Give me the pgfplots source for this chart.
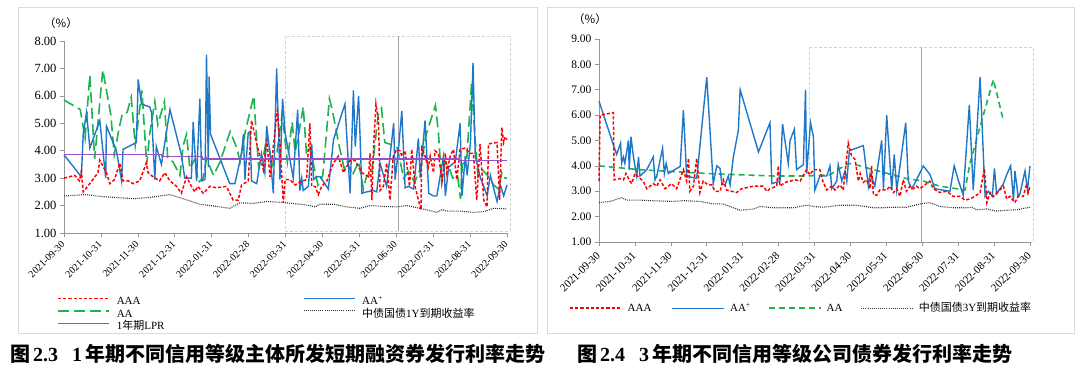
\documentclass[border=0pt]{standalone}
\usepackage{fontspec}
\setmainfont{Liberation Serif}
\newfontfamily\cjk{Noto Sans CJK SC}
\usepackage{pgfplots}
\pgfplotsset{compat=1.18}
\definecolor{cRed}{RGB}{255,0,0}
\definecolor{cBlue}{RGB}{31,119,200}
\definecolor{cGreen}{RGB}{30,178,80}
\definecolor{cPurple}{RGB}{150,80,200}
\definecolor{cDot}{RGB}{50,50,50}
\definecolor{axgray}{RGB}{150,150,150}
\definecolor{framegray}{RGB}{217,217,217}
\definecolor{txt}{RGB}{64,64,64}
\tikzset{
 Laaa/.style={draw=cRed, line width=1.5pt, dash pattern=on 3.2pt off 2pt},
 Laap/.style={draw=cBlue, line width=1.4pt},
 LaaR/.style={draw=cGreen, line width=1.6pt, dash pattern=on 6pt off 4pt},
 Lyld/.style={draw=cDot, line width=1.1pt, dash pattern=on 1pt off 1.1pt},
}
\newcommand{\lgl}[1]{\tikz[baseline=-3.5pt]\draw[#1] (0pt,0pt) -- (52pt,0pt);\hspace{5pt}}
\pgfplotsset{
 aaa/.style={draw=cRed, line width=1.5pt, dash pattern=on 3.2pt off 2pt},
 aap/.style={draw=cBlue, line width=1.4pt},
 aaL/.style={draw=cGreen, line width=1.6pt, dash pattern=on 11pt off 5pt},
 aaR/.style={draw=cGreen, line width=1.6pt, dash pattern=on 6pt off 4pt},
 yld/.style={draw=cDot, line width=1.1pt, dash pattern=on 1pt off 1.1pt},
 lpr/.style={draw=cPurple, line width=1.3pt},
 myax/.style={scale only axis, anchor=south west, xmin=0, xmax=12,
  axis x line*=bottom, axis y line*=left,
  axis line style={draw=axgray, line width=0.8pt, -},
  every tick/.style={draw=axgray, line width=0.6pt},
  tick align=outside, major tick length=4pt,
  xtick={0,...,12},
  xticklabels={2021-09-30,2021-10-31,2021-11-30,2021-12-31,2022-01-31,2022-02-28,2022-03-31,2022-04-30,2022-05-31,2022-06-30,2022-07-31,2022-08-31,2022-09-30},
  x tick label style={rotate=45, anchor=east, inner sep=1pt},
  clip=false,
  legend cell align=left,
 },
}
\begin{document}
\begin{tikzpicture}
\path[use as bounding box] (0pt,0pt) rectangle (1080pt,376pt);
\draw[framegray, line width=0.9pt] (18pt,369pt) rectangle (537pt,43pt);
\draw[framegray, line width=0.9pt] (547pt,369pt) rectangle (1074pt,43pt);
% highlight boxes
\draw[gray!35, line width=0.7pt, dash pattern=on 3pt off 2pt] (285pt,340pt) rectangle (510pt,145pt);
\draw[gray!70, line width=0.6pt] (398pt,340pt) -- (398pt,145pt);
\draw[gray!35, line width=0.7pt, dash pattern=on 3pt off 2pt] (809pt,329pt) rectangle (1033pt,134pt);
\draw[gray!70, line width=0.6pt] (921pt,329pt) -- (921pt,134pt);

\begin{axis}[myax, at={(64pt,143pt)}, width=443pt, height=192pt, ymin=1, ymax=8,
 ytick={1,...,8}, yticklabels={1.00,2.00,3.00,4.00,5.00,6.00,7.00,8.00},
 y tick label style={font=\fontsize{12.5}{14}\selectfont},
 x tick label style={font=\fontsize{10}{12}\selectfont},
 xticklabel shift=5pt,
 legend columns=2,
 legend style={at={(axis description cs:-0.0158,-0.3255)}, anchor=north west, draw=none, fill=none,
  inner sep=0pt, font=\fontsize{11}{12}\selectfont,
  nodes={inner sep=0pt, text height=9pt, text depth=3.5pt},
  /tikz/every odd column/.append style={column sep=7pt}},
 legend image code/.code={\draw[#1] (0pt,3.5pt) -- (51pt,3.5pt);},
]
\addlegendimage{aaa}\addlegendentry{\makebox[186pt][l]{AAA}}
\addlegendimage{aap}\addlegendentry{AA\textsuperscript{+}}
\addlegendimage{aaL}\addlegendentry{\makebox[186pt][l]{AA}}
\addlegendimage{yld}\addlegendentry{{\cjk 中债国债}1Y{\cjk 到期收益率}}
\addlegendimage{lpr}\addlegendentry{1{\cjk 年期}LPR}

\addplot[yld, forget plot] coordinates {
(0,2.35)(0.6,2.40)(1.0,2.33)(1.9,2.25)(2.33,2.30)(2.87,2.40)(3.23,2.25)(3.68,2.05)(4.13,1.97)(4.49,1.90)(4.76,2.10)(5.13,2.08)(5.49,2.15)(5.85,2.12)(6.39,2.05)(6.66,2.0)(6.80,1.95)(6.94,2.05)(7.30,2.05)(7.66,1.95)(8.02,1.90)(8.29,2.0)(8.65,1.97)(9.01,1.95)(9.28,2.0)(9.64,1.9)(9.91,1.82)(10.10,1.75)(10.24,1.85)(10.37,1.80)(10.73,1.80)(11.09,1.75)(11.37,1.78)(11.64,1.9)(12,1.88)};
\addplot[aaL, forget plot] coordinates {
(0,5.85)(0.44,5.5)(0.57,4.45)(0.70,6.75)(0.83,3.7)(1.05,6.95)(1.27,5.3)(1.36,3.85)(1.49,4.8)(1.58,5.35)(1.71,5.4)(1.82,5.95)(1.93,4.2)(2.11,6.2)(2.24,3.5)(2.32,4.6)(2.46,5.8)(2.54,4.95)(2.72,5.8)(2.81,3.7)(2.95,3.6)(3.14,3.1)(3.23,4.2)(3.32,4.6)(3.41,3.35)(3.55,3.7)(3.64,2.85)(3.77,3.0)(3.86,3.7)(4.05,3.1)(4.23,3.6)(4.50,4.7)(4.68,4.1)(4.77,3.6)(4.91,4.7)(5.14,6.0)(5.18,5.15)(5.27,3.45)(5.41,3.85)(5.50,4.55)(5.64,3.45)(5.77,3.95)(5.91,5.35)(6.05,3.6)(6.18,5.05)(6.26,3.95)(6.35,4.55)(6.48,5.6)(6.57,3.85)(6.66,4.1)(6.88,2.75)(7.01,3.1)(7.19,5.9)(7.28,5.4)(7.45,4.2)(7.59,3.35)(7.67,3.6)(7.81,3.1)(7.98,3.6)(8.11,2.6)(8.20,3.1)(8.33,3.1)(8.51,5.3)(8.60,5.55)(8.69,4.3)(8.81,4.25)(8.9,4.2)(9.03,4.1)(9.2,3.0)(9.33,3.25)(9.5,2.85)(9.67,3.4)(9.8,4.55)(10.06,5.65)(10.14,4.7)(10.23,2.85)(10.31,3.6)(10.44,3.35)(10.53,3.0)(10.66,3.1)(10.74,2.25)(10.79,3.5)(10.91,3.7)(11.04,6.45)(11.13,4.55)(11.21,3.1)(11.3,3.35)(11.47,3.1)(11.64,2.75)(11.77,2.6)(11.86,3.2)(11.95,3.0)(12,3.0)};
\addplot[aap, forget plot] coordinates {
(0.00,3.85)(0.47,3.05)(0.52,4.6)(0.61,5.4)(0.70,4.1)(0.97,5.1)(1.13,3.0)(1.15,4.9)(1.42,4.0)(1.56,2.9)(1.60,4.05)(1.96,4.3)(2.01,6.6)(2.10,5.7)(2.32,5.6)(2.37,5.4)(2.46,2.95)(2.50,4.15)(2.64,3.5)(2.87,5.5)(3.18,3.85)(3.27,3.0)(3.45,3.0)(3.50,5.05)(3.59,2.9)(3.68,5.9)(3.73,2.9)(3.82,2.95)(3.86,7.5)(3.91,3.4)(3.93,6.7)(3.97,4.6)(4.49,2.8)(4.63,2.8)(4.81,3.9)(4.86,4.6)(4.90,2.95)(4.99,4.65)(5.04,4.7)(5.08,2.9)(5.22,2.8)(5.35,3.9)(5.44,3.2)(5.49,4.9)(5.58,3.9)(5.67,2.45)(5.76,7.0)(5.85,2.95)(5.92,5.9)(5.99,4.65)(6.21,3.0)(6.33,5.5)(6.39,2.55)(6.44,3.0)(6.48,2.55)(6.62,2.7)(6.71,4.25)(6.76,2.95)(6.85,3.05)(6.94,3.05)(7.16,2.6)(7.30,4.4)(7.61,5.7)(7.75,2.45)(7.84,6.2)(7.89,4.15)(7.98,6.0)(8.02,4.5)(8.07,2.45)(8.20,2.5)(8.38,2.55)(8.47,2.5)(8.56,3.55)(8.74,2.7)(8.93,5.0)(8.97,2.95)(9.06,4.05)(9.15,5.45)(9.24,2.65)(9.33,2.7)(9.47,2.6)(9.60,4.45)(9.65,3.0)(9.78,5.1)(9.88,2.45)(10.01,2.35)(10.10,2.35)(10.28,3.8)(10.33,2.35)(10.42,3.4)(10.60,3.6)(10.73,5.0)(10.78,2.35)(10.87,3.8)(10.92,3.1)(11.01,4.3)(11.08,7.2)(11.14,3.8)(11.28,3.0)(11.37,2.7)(11.46,2.35)(11.55,3.1)(11.73,2.15)(11.82,2.75)(11.91,2.35)(12.00,2.75)};
\addplot[aaa, forget plot] coordinates {
(0,3.0)(0.29,3.1)(0.42,2.9)(0.47,3.25)(0.52,2.5)(0.70,2.8)(0.92,3.2)(0.97,3.65)(1.15,3.2)(1.24,2.8)(1.37,2.95)(1.51,3.55)(1.60,2.9)(1.74,2.9)(1.87,2.8)(2.05,2.9)(2.23,3.55)(2.28,3.2)(2.41,3.05)(2.59,2.9)(2.73,3.2)(2.87,2.9)(3.05,2.7)(3.18,2.45)(3.32,3.05)(3.41,2.8)(3.54,2.5)(3.63,2.7)(3.77,2.45)(3.95,2.7)(4.13,2.65)(4.40,2.7)(4.58,2.2)(4.72,2.2)(4.81,2.75)(4.99,2.9)(5.08,5.1)(5.22,4.25)(5.40,3.3)(5.49,4.4)(5.58,3.05)(5.78,5.5)(5.85,4.25)(5.94,2.1)(5.99,2.95)(6.12,2.95)(6.26,2.75)(6.39,2.85)(6.57,2.95)(6.66,5.0)(6.71,2.7)(6.80,2.7)(6.89,2.4)(6.98,2.7)(7.12,2.9)(7.30,3.55)(7.43,3.8)(7.57,3.2)(7.75,3.65)(7.88,3.65)(8.07,3.2)(8.25,3.05)(8.29,3.9)(8.34,2.2)(8.38,4.0)(8.45,5.7)(8.52,5.1)(8.56,2.55)(8.65,2.7)(8.74,3.55)(8.83,2.2)(8.92,3.8)(9.01,4.05)(9.10,4.0)(9.15,3.8)(9.24,4.0)(9.36,2.7)(9.42,4.05)(9.51,2.7)(9.60,2.2)(9.67,1.85)(9.69,4.1)(9.78,3.8)(9.87,3.4)(9.92,3.8)(10.01,3.2)(10.05,4.0)(10.14,3.9)(10.24,2.9)(10.33,3.9)(10.37,3.2)(10.46,3.8)(10.55,4.05)(10.64,2.95)(10.73,4.05)(10.87,4.1)(11.00,3.9)(11.09,3.9)(11.18,2.2)(11.27,4.25)(11.37,2.2)(11.46,1.95)(11.50,4.25)(11.73,4.3)(11.80,2.2)(11.86,4.85)(11.91,4.3)(11.95,4.5)(12.00,4.4)};
\addplot[lpr, forget plot] coordinates {
(0,3.85)(2.64,3.85)(2.64,3.80)(3.74,3.80)(3.74,3.70)(10.7,3.70)(10.7,3.65)(12,3.65)};
\end{axis}

\begin{axis}[myax, at={(599pt,134pt)}, width=431pt, height=203pt, ymin=1, ymax=9,
 ytick={1,...,9}, yticklabels={1.00,2.00,3.00,4.00,5.00,6.00,7.00,8.00,9.00},
 y tick label style={font=\fontsize{11.5}{13}\selectfont},
 x tick label style={font=\fontsize{11}{12}\selectfont},
 xticklabel shift=7pt,
 legend columns=4,
 legend style={at={(axis description cs:-0.0696,-0.33)}, anchor=west, draw=none, fill=none,
  inner sep=0pt, font=\fontsize{11}{12}\selectfont,
  nodes={inner sep=0pt, text height=9pt, text depth=3.5pt},
  /tikz/every odd column/.append style={column sep=0pt}},
 legend image code/.code={},
]
\addlegendimage{empty legend}\addlegendentry{\lgl{Laaa}\makebox[44pt][l]{AAA}}
\addlegendimage{empty legend}\addlegendentry{\lgl{Laap}\makebox[38pt][l]{AA\textsuperscript{+}}}
\addlegendimage{empty legend}\addlegendentry{\lgl{LaaR}\makebox[34pt][l]{AA}}
\addlegendimage{empty legend}\addlegendentry{\lgl{Lyld}{\cjk 中债国债}3Y{\cjk 到期收益率}}

\addplot[yld, forget plot] coordinates {
(0,2.55)(0.31,2.6)(0.63,2.75)(0.77,2.65)(1.14,2.65)(1.61,2.62)(2.07,2.6)(2.35,2.63)(2.81,2.6)(3.18,2.5)(3.46,2.5)(3.74,2.35)(3.93,2.25)(4.30,2.3)(4.48,2.4)(4.85,2.35)(5.41,2.35)(5.78,2.45)(5.97,2.4)(6.25,2.37)(6.71,2.45)(7.17,2.45)(7.64,2.35)(7.92,2.35)(8.20,2.37)(8.56,2.37)(8.94,2.5)(9.21,2.55)(9.49,2.4)(9.86,2.35)(10.24,2.35)(10.38,2.37)(10.52,2.27)(10.79,2.3)(11.07,2.22)(11.35,2.25)(11.63,2.27)(12,2.37)};
\addplot[aaR, forget plot] coordinates {
(0,4.0)(1.14,3.85)(3.0,3.7)(4.85,3.6)(5.78,3.6)(6.43,3.65)(6.94,4.1)(7.27,4.0)(7.64,3.85)(8.56,3.5)(9.03,3.4)(9.49,3.2)(10.19,3.05)(10.33,4.1)(10.61,5.55)(10.98,7.4)(11.24,5.9)};
\addplot[aap, forget plot] coordinates {
(0,6.55)(0.49,4.45)(0.60,4.9)(0.63,4.1)(0.68,4.35)(0.72,4.1)(0.82,5.0)(0.84,3.85)(0.89,5.15)(0.96,4.35)(1.05,3.6)(1.10,4.35)(1.14,3.6)(1.33,3.85)(1.51,4.35)(1.56,3.45)(1.61,3.6)(1.77,4.7)(1.82,3.7)(1.87,4.1)(1.93,3.7)(2.26,3.98)(2.35,6.2)(2.44,3.6)(2.72,3.5)(3.00,7.5)(3.18,3.3)(3.28,4.0)(3.37,3.9)(3.42,3.3)(3.51,3.25)(3.60,3.6)(3.65,3.25)(3.74,4.35)(3.88,5.4)(3.93,7.0)(4.44,4.55)(4.76,5.7)(4.81,3.3)(5.04,3.4)(5.11,5.65)(5.27,4.1)(5.32,5.0)(5.44,5.45)(5.50,3.85)(5.69,4.05)(5.75,7.0)(5.78,3.7)(5.89,5.7)(5.97,5.15)(6.01,3.05)(6.15,3.6)(6.34,3.6)(6.43,4.0)(6.48,3.1)(6.62,3.4)(6.66,4.05)(6.76,3.4)(6.85,3.8)(6.90,3.4)(6.97,4.6)(7.36,4.8)(7.50,3.2)(7.55,3.7)(7.68,3.2)(7.87,5.0)(7.92,3.1)(8.01,6.0)(8.15,3.05)(8.22,4.45)(8.29,3.05)(8.38,4.0)(8.54,5.7)(8.61,3.4)(8.71,3.1)(8.84,3.45)(9.03,4.0)(9.22,3.65)(9.35,3.1)(9.77,3.0)(9.89,4.0)(10.0,3.45)(10.14,2.85)(10.31,6.4)(10.42,3.05)(10.61,7.5)(10.75,2.8)(10.84,3.0)(10.95,2.8)(11.01,3.9)(11.07,2.9)(11.26,3.3)(11.35,3.65)(11.46,4.0)(11.54,2.65)(11.58,3.8)(11.67,2.8)(11.72,2.9)(11.86,3.8)(11.93,3.05)(12.00,4.0)};
\addplot[aaa, forget plot] coordinates {
(0,3.4)(0.03,6.0)(0.40,6.1)(0.42,3.45)(0.58,3.5)(0.68,3.45)(0.75,3.7)(0.86,3.4)(0.91,3.3)(1.0,3.7)(1.1,3.55)(1.23,3.4)(1.33,3.1)(1.51,3.3)(1.61,3.2)(1.70,3.45)(1.84,3.1)(2.02,3.3)(2.16,3.1)(2.30,3.65)(2.35,3.85)(2.44,3.4)(2.49,4.3)(2.53,3.0)(2.63,3.2)(2.72,4.3)(2.81,2.95)(2.90,3.4)(3.04,3.25)(3.14,3.25)(3.23,3.0)(3.37,3.0)(3.46,3.45)(3.55,3.05)(3.69,3.0)(3.83,2.95)(3.97,3.1)(4.30,3.2)(4.57,3.2)(4.67,3.0)(4.76,3.1)(4.95,3.2)(4.99,4.0)(5.04,3.2)(5.18,3.35)(5.32,3.4)(5.46,3.45)(5.60,3.4)(5.78,3.85)(5.87,3.65)(5.97,3.85)(6.15,3.85)(6.23,3.4)(6.34,3.05)(6.48,3.2)(6.57,3.05)(6.71,3.25)(6.80,3.05)(6.94,4.9)(7.03,4.4)(7.13,4.25)(7.22,3.4)(7.27,3.7)(7.36,3.35)(7.45,3.45)(7.55,3.1)(7.59,4.0)(7.64,2.85)(7.73,2.85)(7.82,3.05)(8.01,3.05)(8.10,3.2)(8.20,2.95)(8.29,3.1)(8.38,2.8)(8.47,3.45)(8.56,3.0)(8.66,3.2)(8.75,3.1)(8.84,3.2)(8.93,3.1)(9.03,3.2)(9.21,3.4)(9.31,3.1)(9.49,2.95)(9.68,3.0)(9.86,2.8)(10.05,2.8)(10.19,2.65)(10.33,2.7)(10.47,2.8)(10.61,2.95)(10.73,3.9)(10.80,2.55)(10.89,2.95)(10.98,2.8)(11.16,3.05)(11.26,3.2)(11.35,2.7)(11.44,2.8)(11.58,2.55)(11.67,2.8)(11.81,2.8)(11.91,3.3)(11.95,2.95)(12.0,3.2)};
\end{axis}

\node[anchor=center, inner sep=0pt, font=\fontsize{11.5}{12}\selectfont] at (61pt,353pt) {\cjk （\%）};
\node[anchor=center, inner sep=0pt, font=\fontsize{11.5}{12}\selectfont] at (590pt,357pt) {\cjk （\%）};
\node[anchor=base west, inner sep=0pt, font=\fontsize{20}{24}\selectfont\bfseries] at (10pt,15pt) {{\cjk 图}\hspace{3pt}2.3\hspace{14pt}1\hspace{3pt}{\cjk 年期不同信用等级主体所发短期融资券发行利率走势}};
\node[anchor=base west, inner sep=0pt, font=\fontsize{20}{24}\selectfont\bfseries] at (577pt,15pt) {{\cjk 图}\hspace{3pt}2.4\hspace{14pt}3\hspace{3pt}{\cjk 年期不同信用等级公司债券发行利率走势}};
\end{tikzpicture}
\end{document}
